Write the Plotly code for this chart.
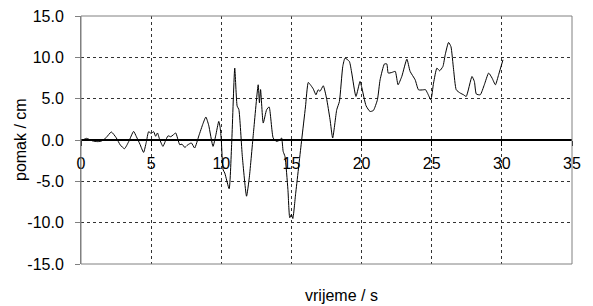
import plotly.graph_objects as go

time_s = [0, 0.1, 0.4, 0.8, 1.2, 1.5, 1.8, 2.16, 2.5, 2.8, 3.1, 3.4, 3.75, 3.95, 4.2, 4.46, 4.65, 4.82,
          5.0, 5.18, 5.32, 5.45, 5.6, 5.84, 6.0, 6.2, 6.4, 6.56, 6.75, 7.04, 7.2, 7.4, 7.6, 7.87, 8.1,
          8.4, 8.7, 8.9, 9.1, 9.41, 9.6, 9.82, 9.92, 10.0, 10.13, 10.25, 10.56, 10.75, 10.96, 11.13, 11.25,
          11.5, 11.8, 12.0, 12.3, 12.63, 12.72, 12.8, 12.99, 13.23, 13.41, 13.7, 13.94, 14.18, 14.3,
          14.41, 14.54, 14.75, 14.88, 15.0, 15.1, 15.3, 15.73, 16.0, 16.2, 16.35, 16.55, 16.75, 16.9,
          17.04, 17.27, 17.5, 17.75, 17.94, 18.23, 18.42, 18.66, 18.82, 19.13, 19.3, 19.6, 19.89, 20.0,
          20.32, 20.6, 20.84, 21.13, 21.32, 21.63, 21.8, 21.9, 22.16, 22.4, 22.6, 22.87, 23.23, 23.46,
          23.82, 24.06, 24.4, 24.55, 24.7, 24.94, 25.13, 25.37, 25.56, 25.8, 25.96, 26.2, 26.37, 26.56,
          26.75, 27.04, 27.27, 27.46, 27.87, 28.04, 28.18, 28.46, 28.75, 29.06, 29.3, 29.54, 29.77, 30.08]

pomak_cm = [0, 0.0, 0.2, -0.1, -0.2, -0.1, 0.3, 0.97, 0.3, -0.6, -1.05, -0.2, 1.04, 0.4, -0.5, -1.5, -0.3, 1.0,
            0.8, 1.0, 0.45, 0.85, 0.1, -0.77, -0.2, 0.5, 0.4, 0.6, 0.85, -0.57, -0.5, -0.9, -0.6, -0.36, -0.97,
            0.5, 2.0, 2.78, 1.8, -0.77, 0.5, 2.25, 1.5, 0.0, -3.6, -4.0, -5.9, 0.0, 8.7, 4.1, 3.7,
            -2.0, -6.8, -4.5, 1.0, 6.68, 4.5, 6.1, 2.05, 3.66, 4.0, 0.24, -0.17, 0.0, 0.25,
            -1.37, -2.0, -6.0, -9.4, -9.0, -9.5, -6.5, 0.0, 4.0, 6.96, 6.68, 6.2, 5.47, 6.07,
            5.9, 6.56, 5.07, 2.5, 0.24, 3.66, 4.66, 8.9, 9.9, 9.5, 8.1, 5.27, 7.08, 6.47,
            4.14, 3.45, 3.57, 4.87, 7.28, 9.2, 9.2, 8.1, 8.17, 8.3, 6.68, 7.7, 9.78, 8.3,
            7.28, 6.07, 6.07, 6.1, 5.67, 4.87, 6.88, 8.7, 8.37, 8.9, 10.3, 11.8, 11.3, 8.5,
            6.07, 5.67, 5.47, 5.27, 7.68, 7.08, 5.56, 5.47, 6.68, 8.1, 7.5, 6.68, 7.9, 9.7]

x_ticks = [0, 5, 10, 15, 20, 25, 30, 35]
y_ticks = [-15, -10, -5, 0, 5, 10, 15]
y_tick_labels = ["-15.0", "-10.0", "-5.0", "0.0", "5.0", "10.0", "15.0"]

font = dict(family="Liberation Sans, Arial, sans-serif", size=16, color="black")

fig = go.Figure()
fig.add_trace(go.Scatter(x=time_s, y=pomak_cm, mode="lines",
                         line=dict(color="black", width=1, shape="spline", smoothing=0.5),
                         showlegend=False, hoverinfo="skip"))

fig.update_layout(
    width=593, height=306,
    margin=dict(l=81, r=21, t=16, b=42, autoexpand=False),
    paper_bgcolor="white", plot_bgcolor="white",
    font=font,
    xaxis=dict(range=[0, 35], tickvals=x_ticks, ticktext=[str(v) for v in x_ticks],
               anchor="free", position=0.5, showline=False,
               ticks="outside", ticklen=5, tickcolor="black",
               showgrid=True, gridcolor="#333333", griddash="dot", gridwidth=1,
               zeroline=False, ticklabelstandoff=4, tickfont=font),
    yaxis=dict(range=[-15, 15], tickvals=y_ticks, ticktext=y_tick_labels,
               showline=True, linecolor="#808080", linewidth=1,
               ticks="outside", ticklen=5, tickcolor="#808080",
               showgrid=True, gridcolor="#333333", griddash="dot", gridwidth=1,
               zeroline=True, zerolinecolor="black", zerolinewidth=2,
               ticklabelstandoff=8, tickfont=font),
    shapes=[dict(type="rect", xref="paper", yref="paper", x0=0, x1=1, y0=0, y1=1,
                 line=dict(color="#808080", width=1), layer="above")],
    annotations=[
        dict(text="vrijeme / s", xref="paper", yref="paper", x=(341 - 81) / 491, y=-0.125,
             xanchor="center", yanchor="middle", showarrow=False, font=font),
        dict(text="pomak / cm", xref="paper", yref="paper", x=-(81 - 20) / 491, y=0.5,
             xanchor="center", yanchor="middle", textangle=-90, showarrow=False, font=font),
    ],
)

fig.write_html("out.html", config={"displayModeBar": False, "staticPlot": True},
               post_script="document.body.style.margin='0';document.body.style.overflow='hidden';")
